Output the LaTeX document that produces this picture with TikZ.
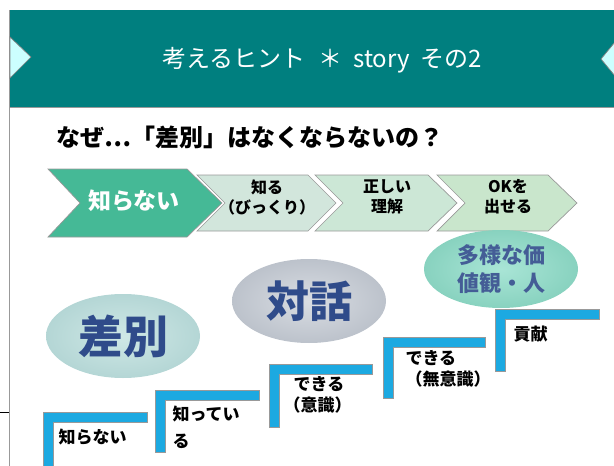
\documentclass[tikz,border=0pt]{standalone}
\usepackage{fontspec}
\setmainfont{Noto Sans CJK JP}
\usetikzlibrary{shapes.geometric}

\definecolor{bannerteal}{HTML}{007F7F}
\definecolor{tipcyan}{HTML}{CCFFFF}
\definecolor{chevdark}{HTML}{45B996}
\definecolor{chevone}{HTML}{D2E6DC}
\definecolor{chevtwo}{HTML}{CCE7D6}
\definecolor{chevthree}{HTML}{C9E6CC}
\definecolor{stepblue}{HTML}{1CA9E1}
\definecolor{bubblenavy}{HTML}{2F4B8A}
\definecolor{edgegray}{HTML}{999999}
\definecolor{sabetsuin}{HTML}{CFE8E6}
\definecolor{sabetsuout}{HTML}{B4D6D5}
\definecolor{taiwain}{HTML}{D9DDE3}
\definecolor{taiwaout}{HTML}{BCC2CB}
\definecolor{tayouin}{HTML}{A9E5D6}
\definecolor{tayouout}{HTML}{88D2BF}

\tikzset{
	chevron/.style={draw=edgegray, line width=0.7pt},
	stepbar/.style={fill=stepblue, draw=edgegray, line width=0.7pt},
	chevtext/.style={font=\fontsize{16}{20}\selectfont\bfseries, align=center},
	steptext/.style={font=\fontsize{17}{21}\selectfont\bfseries, align=left, anchor=west},
	bubble/.style={ellipse, minimum width=154, minimum height=84, inner sep=0pt, text=bubblenavy, font=\bfseries},
}

\begin{document}
\begin{tikzpicture}[x=1pt, y=-1pt]
	\useasboundingbox (0,0) rectangle (614,466);

	% Banner at the top
	\fill[bannerteal] (9,10) rectangle (614,107);
	\draw[edgegray, line width=1pt] (9,107) -- (614,107);
	\draw[edgegray, line width=1pt] (9,10) -- (9,466);
	\draw[black, line width=0.8pt] (0,412) -- (9,412);
	\draw[fill=tipcyan, draw=gray, line width=0.7pt] (10,37) -- (31,57) -- (10,78) -- cycle;
	\draw[fill=tipcyan, draw=gray, line width=0.7pt] (615,42) -- (601,59) -- (615,76) -- cycle;
	\node[text=white, font=\fontsize{24}{28}\selectfont] (title) at (322,60)
		{考えるヒント\hspace{0.55em}＊\hspace{0.45em}story\hspace{0.45em}その2};

	% Question
	\node[anchor=west, font=\fontsize{24}{28}\selectfont\bfseries] (question) at (53,137)
		{なぜ…「差別」はなくならないの？};

	% Chevrons
	\draw[chevron, fill=chevdark] (48,169) -- (187,169) -- (222,203) -- (187,237) -- (48,237) -- (80,203) -- cycle;
	\draw[chevron, fill=chevone] (197,175) -- (308,175) -- (336,203) -- (308,231) -- (197,231) -- (225,203) -- cycle;
	\draw[chevron, fill=chevtwo] (315,175) -- (428,175) -- (457,203) -- (428,231) -- (315,231) -- (343,203) -- cycle;
	\draw[chevron, fill=chevthree] (437,175) -- (548,175) -- (577,203) -- (548,231) -- (437,231) -- (465,203) -- cycle;
	\node[text=white, font=\fontsize{23}{26}\selectfont\bfseries] (know0) at (134,201) {知らない};
	\node[chevtext] (know1) at (267,197) {知る\\（びっくり）};
	\node[chevtext] (know2) at (387,197) {正しい\\理解};
	\node[chevtext] (know3) at (508,197) {OKを\\出せる};

	% Bubbles
	\node[bubble, inner color=sabetsuin, outer color=sabetsuout, font=\fontsize{45}{48}\selectfont\bfseries] (sabetsu) at (123,336) {差別};
	\node[bubble, inner color=taiwain, outer color=taiwaout, font=\fontsize{43}{46}\selectfont\bfseries] (taiwa) at (309,301) {対話};
	\node[bubble, minimum height=78, inner color=tayouin, outer color=tayouout, align=center, text=bubblenavy!90, font=\fontsize{22}{28}\selectfont\bfseries] (tayou) at (501,269) {多様な価\\値観・人};

	% Steps
	\draw[stepbar] (43,474) -- (43,412) -- (147,412) -- (147,422) -- (53,422) -- (53,474) -- cycle;
	\draw[stepbar] (155,452) -- (155,390) -- (259,390) -- (259,400) -- (165,400) -- (165,452) -- cycle;
	\draw[stepbar] (269,427) -- (269,364) -- (372,364) -- (372,374) -- (279,374) -- (279,427) -- cycle;
	\draw[stepbar] (383,398) -- (383,337) -- (485,337) -- (485,347) -- (393,347) -- (393,398) -- cycle;
	\draw[stepbar] (495,371) -- (495,309) -- (599,309) -- (599,319) -- (505,319) -- (505,371) -- cycle;
	\node[steptext] (step1) at (55,437) {知らない};
	\node[steptext, font=\fontsize{17}{27}\selectfont\bfseries] (step2) at (169,427) {知ってい\\る};
	\node[steptext] (step3) at (280,395) {\hspace{0.6em}できる\\（意識）};
	\node[steptext] (step4) at (402,369) {できる\\（無意識）};
	\node[steptext] (step5) at (510,334) {貢献};
\end{tikzpicture}
\end{document}
